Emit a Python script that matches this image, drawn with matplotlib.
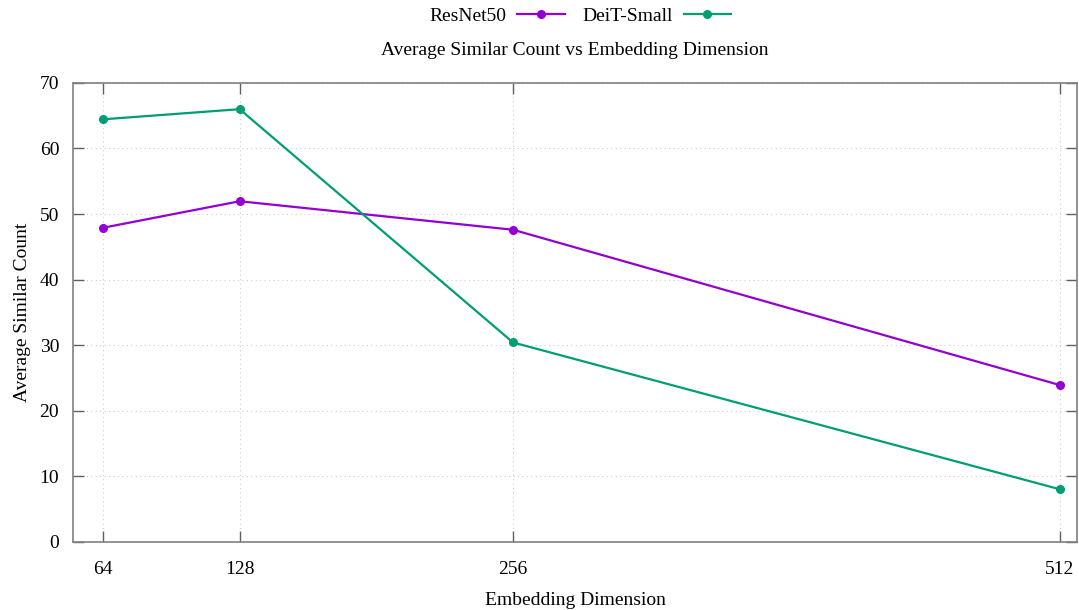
import matplotlib
matplotlib.use("Agg")
import matplotlib.pyplot as plt

dims = [64, 128, 256, 512]
resnet50 = [47.9, 51.95, 47.6, 23.9]
deit_small = [64.45, 66.0, 30.4, 8.0]
yticks = [0, 10, 20, 30, 40, 50, 60, 70]

plt.rcParams['font.family'] = ['Liberation Serif', 'DejaVu Serif']
FS = 14

fig = plt.figure(figsize=(10.79, 6.10), dpi=100)
ax = fig.add_axes([0.0677, 0.112, 0.9309, 0.752])

ax.plot(dims, resnet50, color='#9400D3', lw=1.6, marker='o', ms=5.5, label='ResNet50')
ax.plot(dims, deit_small, color='#009E73', lw=1.6, marker='o', ms=5.5, label='DeiT-Small')

ax.set_xlim(50, 520.3)
ax.set_ylim(0, 70)
ax.set_xticks(dims)
ax.set_xticklabels([str(d) for d in dims])
ax.set_yticks(yticks)

ax.grid(True, color='#cccccc', linestyle=(0, (1, 3)), lw=0.8)
for s in ax.spines.values():
    s.set_color('#808080')
    s.set_linewidth(1.2)
ax.tick_params(direction='in', top=True, right=True, length=8, width=1.0,
               color='#606060', labelsize=FS)
ax.tick_params(axis='x', pad=14)
ax.tick_params(axis='y', pad=10)

ax.set_xlabel('Embedding Dimension', fontsize=FS, labelpad=10)
ax.set_ylabel('Average Similar Count', fontsize=FS, labelpad=6)
fig.text(0.533, 0.918, 'Average Similar Count vs Embedding Dimension',
         ha='center', va='center', fontsize=FS)

fig.legend(loc='center', bbox_to_anchor=(0.538, 0.974), ncol=2, frameon=False,
           markerfirst=False, fontsize=FS, handlelength=2.45, columnspacing=0.9,
           handletextpad=0.55, borderpad=0.2)

fig.savefig('out.png', dpi=100)
